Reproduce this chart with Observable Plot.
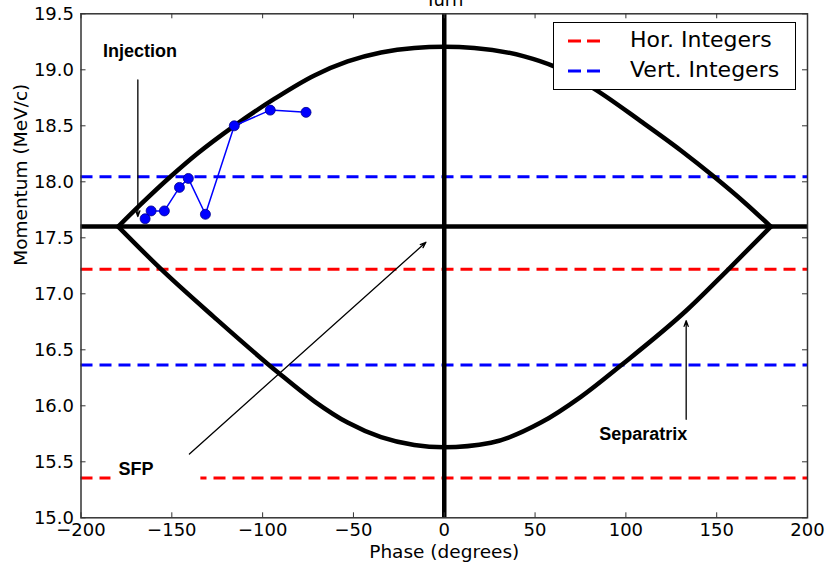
<!DOCTYPE html>
<html>
<head>
<meta charset="utf-8">
<script src="https://cdn.jsdelivr.net/npm/d3@7"></script>
<script src="https://cdn.jsdelivr.net/npm/@observablehq/plot@0.6"></script>
<style>
  body { margin: 0; background: #fff; }
  #wrap { position: relative; width: 825px; height: 563px; overflow: hidden; }
  #legend { position: absolute; left: 553px; top: 22px; width: 241px; height: 66px;
            border: 1.5px solid #000; background: #fff; font-family: "DejaVu Sans"; font-size: 22px; color: #000; }
  .row { position: absolute; left: 0; height: 30px; width: 100%; }
  .row svg { position: absolute; left: 13px; top: 10px; }
  .row span { position: absolute; left: 76px; top: 1px; white-space: nowrap; }
</style>
</head>
<body>
<div id="wrap"><div id="chart"></div><div id="legend"></div></div>
<script>
// ---- data ----
const xTicks = [-200, -150, -100, -50, 0, 50, 100, 150, 200];
const yTicks = [15.0, 15.5, 16.0, 16.5, 17.0, 17.5, 18.0, 18.5, 19.0, 19.5];

const horIntegers = [17.22, 15.355];   // red dashed
const vertIntegers = [18.045, 16.365]; // blue dashed
const synchronous = 17.6;              // horizontal black line
const sfpPhase = 0;                    // vertical black line

// separatrix, upper branch (phase deg, momentum MeV/c)
const sepTopPhase = [-179.5, -167, -150.8, -135.7, -115.6, -93.6, -71.5, -53.2, -34.8, -16.5, 0, 16.5, 44, 60.5, 82.6, 108.3, 130.3, 148.6, 165, 179.8];
const sepTopMom   = [17.60, 17.80, 18.045, 18.255, 18.50, 18.74, 18.95, 19.075, 19.155, 19.195, 19.205, 19.195, 19.12, 19.03, 18.83, 18.54, 18.28, 18.045, 17.82, 17.60];
// separatrix, lower branch
const sepBotPhase = [-179.5, -155.9, -126.6, -91.7, -71.5, -53.2, -34.8, -16.5, 0, 25.7, 53.2, 75.2, 97.2, 133.9, 155.9, 179.8];
const sepBotMom   = [17.60, 17.22, 16.79, 16.30, 16.04, 15.85, 15.72, 15.65, 15.63, 15.67, 15.85, 16.08, 16.36, 16.86, 17.21, 17.60];

// tracked turns
const turnPhase = [-164.7, -161.4, -154.1, -145.8, -140.9, -131.5, -115.6, -95.8, -76.1];
const turnMom   = [17.67, 17.74, 17.74, 17.95, 18.03, 17.71, 18.50, 18.64, 18.62];

// annotations
const noteText  = ["Injection", "SFP", "Separatrix"];
const notePhase = [-167.5, -169.7, 109.6];
const noteMom   = [19.17, 15.43, 15.75];
const arrowX1 = [-168.7, -140.3, 133.2];
const arrowY1 = [18.91, 15.57, 15.88];
const arrowX2 = [-168.7, -10.1, 133.2];
const arrowY2 = [17.69, 17.46, 16.76];
const sfpBox = {x1: -183.5, x2: -134, y1: 15.24, y2: 15.52};

const legendLabels = ["Hor. Integers", "Vert. Integers"];
const legendColors = ["#ff0000", "#0000ff"];

// ---- build ----
const sepTop = sepTopPhase.map((p, i) => ({p, m: sepTopMom[i]}));
const sepBot = sepBotPhase.map((p, i) => ({p, m: sepBotMom[i]}));
const turns = turnPhase.map((p, i) => ({p, m: turnMom[i]}));
const notes = noteText.map((t, i) => ({t, p: notePhase[i], m: noteMom[i]}));
const arrows = arrowX1.map((x1, i) => ({x1, y1: arrowY1[i], x2: arrowX2[i], y2: arrowY2[i]}));

const W = 825, H = 563, mL = 80.5, mR = 18, mT = 13.3, mB = 45.7;
const pH = H - mT - mB, pW = W - mL - mR;
const dash = "12,7";

const chart = Plot.plot({
  width: W, height: H,
  marginLeft: mL, marginRight: mR, marginTop: mT, marginBottom: mB,
  x: {domain: [-200, 200]},
  y: {domain: [15, 19.5]},
  style: {fontFamily: "DejaVu Sans", fontSize: "18px", color: "#000", background: "transparent"},
  marks: [
    Plot.ruleY(horIntegers, {stroke: "#ff0000", strokeWidth: 3, strokeDasharray: dash}),
    Plot.ruleY(vertIntegers, {stroke: "#0000ff", strokeWidth: 3, strokeDasharray: dash}),
    Plot.rect([sfpBox], {x1: "x1", x2: "x2", y1: "y1", y2: "y2", fill: "#fff"}),
    Plot.ruleY([synchronous], {stroke: "#000", strokeWidth: 4.5}),
    Plot.ruleX([sfpPhase], {stroke: "#000", strokeWidth: 4.5}),
    Plot.line(sepTop, {x: "p", y: "m", curve: "monotone-x", stroke: "#000", strokeWidth: 4.5}),
    Plot.line(sepBot, {x: "p", y: "m", curve: "monotone-x", stroke: "#000", strokeWidth: 4.5}),
    Plot.line(turns, {x: "p", y: "m", stroke: "#0000ff", strokeWidth: 1.5}),
    Plot.dot(turns, {x: "p", y: "m", r: 5, fill: "#0000ff", stroke: "#00008b", strokeWidth: 0.8}),
    Plot.arrow(arrows, {x1: "x1", y1: "y1", x2: "x2", y2: "y2", stroke: "#000", strokeWidth: 1.3, headLength: 7, headAngle: 40}),
    Plot.text(notes, {x: "p", y: "m", text: "t", fontFamily: "Liberation Sans", fontWeight: "bold", fontSize: 18, fill: "#000"}),
    Plot.frame({stroke: "#333", strokeWidth: 1.5}),
    Plot.tickX(xTicks, {x: d => d, insetTop: pH - 5, stroke: "#333", strokeWidth: 1}),
    Plot.tickX(xTicks, {x: d => d, insetBottom: pH - 5, stroke: "#333", strokeWidth: 1}),
    Plot.tickY(yTicks, {y: d => d, insetRight: pW - 5, stroke: "#333", strokeWidth: 1}),
    Plot.tickY(yTicks, {y: d => d, insetLeft: pW - 5, stroke: "#333", strokeWidth: 1}),
    Plot.axisX({ticks: xTicks, tickSize: 0, tickPadding: 5, tickFormat: d3.format("d"), label: null, fontSize: 18}),
    Plot.axisY({ticks: yTicks, tickSize: 0, tickPadding: 7, tickFormat: d3.format(".1f"), label: null, fontSize: 18}),
    Plot.text(["Phase (degrees)"], {frameAnchor: "bottom", dy: 34, lineAnchor: "middle", fontSize: 18.5}),
    Plot.text(["Momentum (MeV/c)"], {frameAnchor: "left", dx: -60, rotate: -90, lineAnchor: "middle", fontSize: 18.5}),
    Plot.text(["Turn"], {frameAnchor: "top", dy: -7.5, lineAnchor: "bottom", fontSize: 18})
  ]
});
document.getElementById("chart").appendChild(chart);

// legend (inside plot area, upper right)
const legend = document.getElementById("legend");
legendLabels.forEach((lab, i) => {
  const row = document.createElement("div");
  row.className = "row";
  row.style.top = (3 + i * 30) + "px";
  row.innerHTML = `<svg width="40" height="10"><line x1="1" y1="5" x2="33" y2="5" stroke="${legendColors[i]}" stroke-width="3" stroke-dasharray="13,6"/></svg><span>${lab}</span>`;
  legend.appendChild(row);
});
</script>
</body>
</html>
